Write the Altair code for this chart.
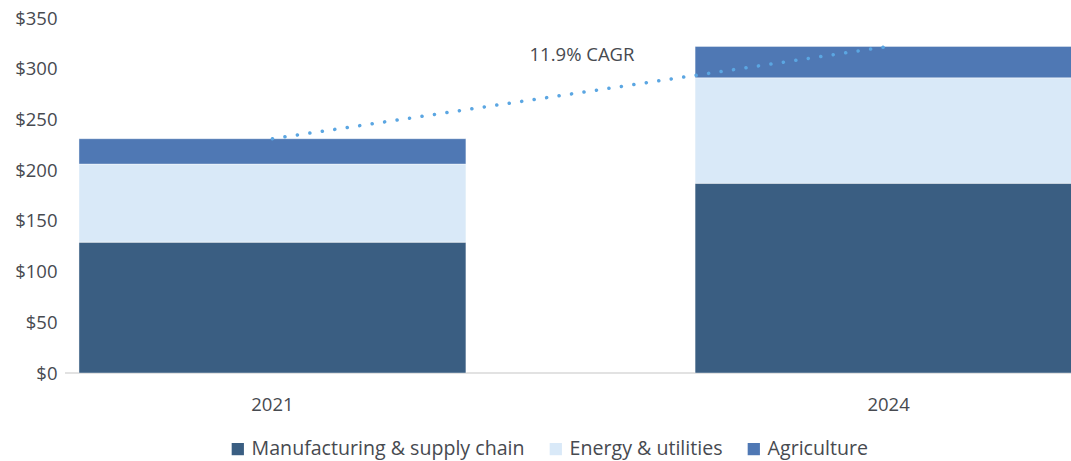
import altair as alt
import pandas as pd

years = ["2021", "2024"]
segments = ["Manufacturing & supply chain", "Energy & utilities", "Agriculture"]
manufacturing = [129, 187]
energy = [77, 104]
agriculture = [25, 31]
colors = ["#3a5e82", "#d9e9f8", "#4f78b4"]
cagr_label = "11.9% CAGR"

rows = []
for i, y in enumerate(years):
    for j, (s, vals) in enumerate(zip(segments, [manufacturing, energy, agriculture])):
        rows.append({"year": y, "segment": s, "value": vals[i], "order": j})
df = pd.DataFrame(rows)
totals = pd.DataFrame({"year": years, "total": [manufacturing[i] + energy[i] + agriculture[i] for i in range(2)]})

W, H = 1006, 355
FONT = "Open Sans"
TXT = "#474a50"

xscale = alt.Scale(domain=years, range=[0, 1031], paddingInner=0.372, paddingOuter=0.0227)
yscale = alt.Scale(domain=[0, 350])

bars = alt.Chart(df).mark_bar(clip=True, stroke="white", strokeWidth=1, strokeOpacity=0.4).encode(
    x=alt.X("year:N", scale=xscale, sort=years,
            axis=alt.Axis(title=None, domain=False, ticks=False, labelPadding=22,
                          labelFontSize=18.5, labelColor=TXT, labelFont=FONT, labelAngle=0)),
    y=alt.Y("value:Q", stack="zero", scale=yscale,
            axis=alt.Axis(title=None, domain=False, ticks=False, grid=False,
                          values=[0, 50, 100, 150, 200, 250, 300, 350],
                          labelExpr="'$' + datum.value", labelPadding=8,
                          labelOverlap=False, labelFlush=False, labelBound=False,
                          labelFontSize=18.5, labelColor=TXT, labelFont=FONT)),
    color=alt.Color("segment:N", scale=alt.Scale(domain=segments, range=colors),
                    legend=alt.Legend(title=None, orient="none", legendX=163, legendY=421,
                                      direction="horizontal", symbolType="square", symbolSize=150,
                                      labelFontSize=19.6, labelColor=TXT, labelFont=FONT, labelLimit=0,
                                      labelOffset=4, columnPadding=21, symbolStrokeWidth=0)),
    order=alt.Order("order:Q"),
)

baseline = alt.Chart(pd.DataFrame({"v": [0]})).mark_rule(color="#d9d9d9", strokeWidth=1.5).encode(
    y=alt.Y("v:Q", scale=yscale), x=alt.value(0), x2=alt.value(W)
)

trend = alt.Chart(totals).mark_line(clip=True, color="#5ba6e2", strokeWidth=3.5, strokeCap="round",
                                    strokeDash=[0.1, 12.5]).encode(
    x=alt.X("year:N", scale=xscale, sort=years, bandPosition=0.5),
    y=alt.Y("total:Q", scale=yscale),
)

label = alt.Chart(pd.DataFrame({"t": [cagr_label], "v": [313.5]})).mark_text(
    fontSize=18.5, color=TXT, font=FONT, align="center", baseline="middle"
).encode(text="t:N", x=alt.value(517), y=alt.Y("v:Q", scale=yscale))

chart = alt.layer(baseline, bars, trend, label).properties(
    width=W, height=H, autosize=alt.AutoSizeParams(type="none"),
    padding={"left": 65, "top": 18, "right": 0, "bottom": 88}
).configure_view(stroke=None)

chart.save("out.html", embed_options={"renderer": "svg", "actions": False})
